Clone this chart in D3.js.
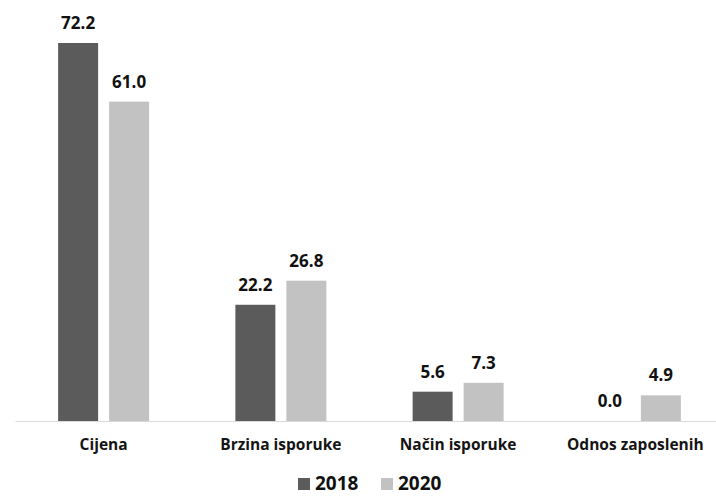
<!DOCTYPE html>
<html>
<head>
<meta charset="utf-8">
<script src="https://cdn.jsdelivr.net/npm/d3@7"></script>
<style>
  html, body { margin: 0; padding: 0; background: #fff; }
  svg { display: block; font-family: "Open Sans", "DejaVu Sans", sans-serif; }
</style>
</head>
<body>
<svg id="chart" width="716" height="496"></svg>
<script>
// Categories, series and values
const categories = ["Cijena", "Brzina isporuke", "Način isporuke", "Odnos zaposlenih"];
const seriesNames = ["2018", "2020"];
const values2018 = [72.2, 22.2, 5.6, 0.0];
const values2020 = [61.0, 26.8, 7.3, 4.9];
const seriesColors = ["#5b5b5b", "#c2c2c2"];

const seriesValues = [values2018, values2020];
const rows = categories.map((c, i) => ({
  category: c,
  items: seriesNames.map((s, j) => ({ series: s, value: seriesValues[j][i] }))
}));

const svg = d3.select("#chart");
const baseY = 421;

const x0 = d3.scaleBand().domain(categories).range([15, 724]).paddingInner(0).paddingOuter(0);
const bw = x0.bandwidth();
const x1 = d3.scaleBand().domain(seriesNames)
  .range([bw / 2 - 45.5, bw / 2 + 45.5]).paddingInner(0.216).paddingOuter(0);
const y = d3.scaleLinear().domain([0, 72.2]).range([baseY, 43]);
const color = d3.scaleOrdinal().domain(seriesNames).range(seriesColors);

// Category axis along the baseline
const axis = svg.append("g")
  .attr("transform", `translate(0,${baseY})`)
  .call(d3.axisBottom(x0).tickSize(0).tickPadding(18));
axis.select(".domain").attr("stroke", "#dadada").attr("stroke-width", 1.2);
axis.selectAll(".tick text")
  .attr("fill", "#141414")
  .style("font-size", "15.5px")
  .style("font-weight", "700")
  .style("font-family", "'Open Sans', sans-serif");

// Bars and value labels
const groups = svg.append("g").selectAll("g")
  .data(rows).join("g")
  .attr("transform", d => `translate(${x0(d.category)},0)`);

groups.selectAll("rect")
  .data(d => d.items).join("rect")
  .attr("x", d => x1(d.series))
  .attr("width", x1.bandwidth())
  .attr("y", d => y(d.value))
  .attr("height", d => baseY - y(d.value))
  .attr("fill", d => color(d.series));

groups.selectAll("text.val")
  .data(d => d.items).join("text")
  .attr("class", "val")
  .attr("x", d => x1(d.series) + x1.bandwidth() / 2)
  .attr("y", d => y(d.value) - 14)
  .attr("text-anchor", "middle")
  .attr("fill", "#111")
  .style("font-size", "17px")
  .style("font-weight", "700")
  .text(d => d3.format(".1f")(d.value));

// Legend
const legendItems = [
  { name: "2018", sx: 298, tx: 315 },
  { name: "2020", sx: 381, tx: 398 }
];
const legend = svg.append("g");
legend.selectAll("rect")
  .data(legendItems).join("rect")
  .attr("x", d => d.sx).attr("y", 478)
  .attr("width", 12).attr("height", 12)
  .attr("fill", d => color(d.name));
legend.selectAll("text")
  .data(legendItems).join("text")
  .attr("x", d => d.tx).attr("y", 490)
  .attr("fill", "#111")
  .style("font-size", "19px")
  .style("font-weight", "700")
  .text(d => d.name);
</script>
</body>
</html>
